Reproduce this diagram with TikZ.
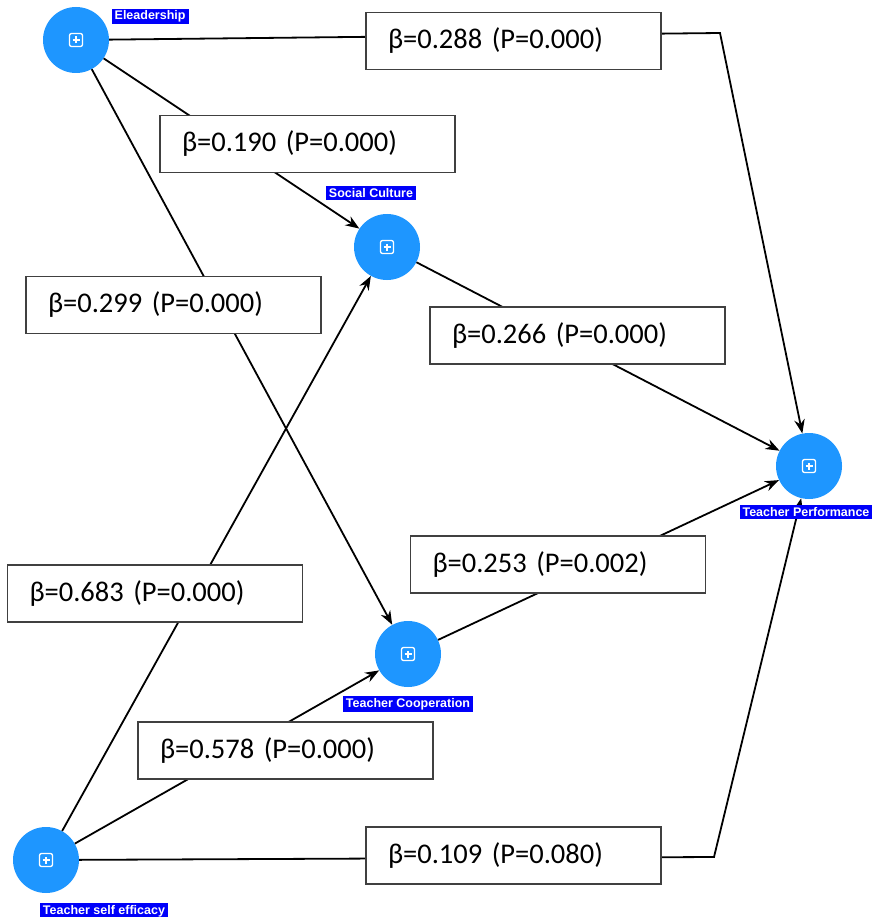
\documentclass[tikz,border=0pt]{standalone}
\usepackage{fontspec}
\setmainfont{Carlito}
\newfontfamily\tagfont{Liberation Sans}
\usetikzlibrary{positioning,arrows.meta}
\definecolor{lvblue}{RGB}{30,150,255}
\definecolor{tagblue}{RGB}{0,0,250}
\tikzset{
>={Stealth[length=14pt,width=10.5pt]},
link/.style={->, line width=1.8pt},
latent/.style={circle, fill=lvblue, minimum size=66pt, inner sep=0pt,
  path picture={
    \draw[white, line width=1.3pt, rounded corners=2pt]
      ([shift={(-6.5pt,-6.5pt)}]path picture bounding box.center) rectangle
      ([shift={(6.5pt,6.5pt)}]path picture bounding box.center);
    \draw[white, line width=1.3pt]
      ([xshift=-3.5pt]path picture bounding box.center) -- ([xshift=3.5pt]path picture bounding box.center)
      ([yshift=-3.5pt]path picture bounding box.center) -- ([yshift=3.5pt]path picture bounding box.center);
  }},
tag/.style={fill=tagblue, text=white, inner xsep=3pt, inner ysep=2pt,
  font=\tagfont\bfseries\fontsize{12.5}{14}\selectfont},
coef/.style={draw=black!75, line width=1.3pt, fill=white, text width=251pt,
  inner xsep=22pt, inner ysep=0pt, minimum height=57pt, align=left,
  font=\fontsize{28.5}{34}\selectfont},
}

\begin{document}
\begin{tikzpicture}[x=1pt, y=-1pt]
        \useasboundingbox (0,0) rectangle (874,917);

        \node[latent] (e) at (76,40) {};
        \node[latent] (sc) at (387,247) {};
        \node[latent] (tc) at (408,654) {};
        \node[latent] (tp) at (809,466) {};
        \node[latent] (tse) at (46,860) {};

        \coordinate (tbend) at (720,33);
        \coordinate (bbend) at (714,857);

        \draw[link] (e) -- (tbend) -- (tp);
        \draw[link] (e) -- (sc);
        \draw[link] (e) -- (tc);
        \draw[link] (sc) -- (tp);
        \draw[link] (tc) -- (tp);
        \draw[link] (tse) -- (sc);
        \draw[link] (tse) -- (tc);
        \draw[link] (tse) -- (bbend) -- (tp);

        % path coefficients
        \node[coef] (w1) at (513.5,41) {β=0.288 (P=0.000)};
        \node[coef] (w2) at (307.5,144) {β=0.190 (P=0.000)};
        \node[coef] (w3) at (173.5,305) {β=0.299 (P=0.000)};
        \node[coef] (w4) at (577.5,335.5) {β=0.266 (P=0.000)};
        \node[coef] (w5) at (558,564.5) {β=0.253 (P=0.002)};
        \node[coef] (w6) at (155,593.5) {β=0.683 (P=0.000)};
        \node[coef] (w7) at (285.5,750.5) {β=0.578 (P=0.000)};
        \node[coef] (w8) at (513.5,855.5) {β=0.109 (P=0.080)};

        % construct names
        \node[tag, right=12pt of e.north east] (te) {Eleadership};
        \node[tag, above=14pt of sc, xshift=-16pt] (tsc) {Social Culture};
        \node[tag, below=9pt of tc] (ttc) {Teacher Cooperation};
        \node[tag, below=6pt of tp, xshift=-3pt] (ttp) {Teacher Performance};
        \node[tag, below=10pt of tse, xshift=58pt] (ttse) {Teacher self efficacy};
    \end{tikzpicture}
\end{document}
